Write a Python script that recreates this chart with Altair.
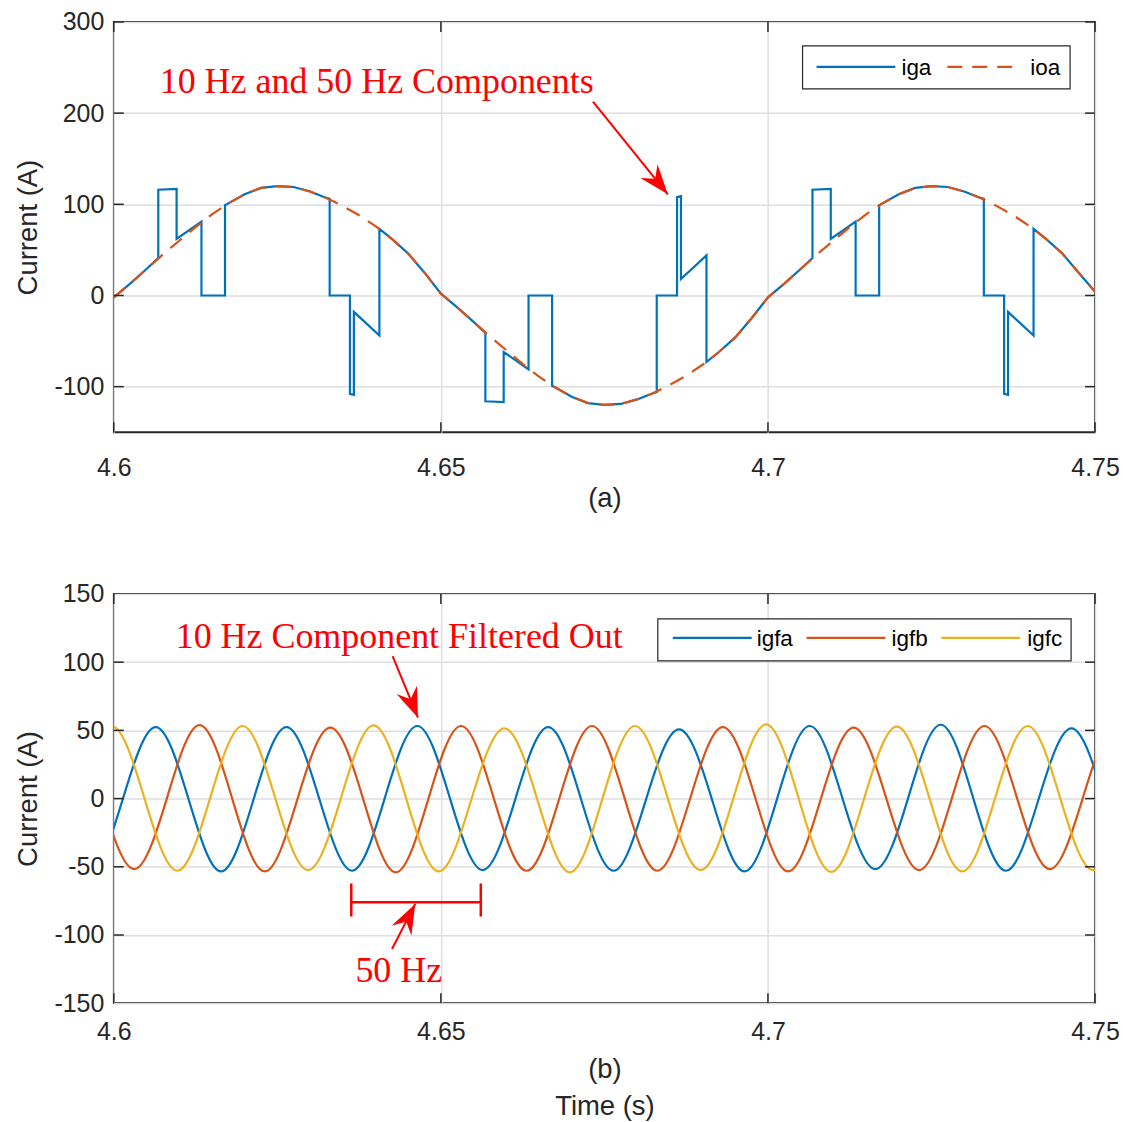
import altair as alt
import pandas as pd

# ---------------- panel (a) data ----------------
ioa_t = [4.6000, 4.6025, 4.6050, 4.6075, 4.6100, 4.6125, 4.6150, 4.6175, 4.6200, 4.6225,
         4.6250, 4.6275, 4.6300, 4.6325, 4.6350, 4.6375, 4.6400, 4.6425, 4.6450, 4.6475,
         4.6500, 4.6525, 4.6550, 4.6575, 4.6600, 4.6625, 4.6650, 4.6675, 4.6700, 4.6725,
         4.6750, 4.6775, 4.6800, 4.6825, 4.6850, 4.6875, 4.6900, 4.6925, 4.6950, 4.6975,
         4.7000, 4.7025, 4.7050, 4.7075, 4.7100, 4.7125, 4.7150, 4.7175, 4.7200, 4.7225,
         4.7250, 4.7275, 4.7300, 4.7325, 4.7350, 4.7375, 4.7400, 4.7425, 4.7450, 4.7475,
         4.7500]
ioa_v = [-2, 13, 29, 45, 60, 75, 89, 101, 111, 118,
         120, 119, 114, 107, 98, 88, 76, 62, 46, 25,
         2, -13, -29, -45, -60, -75, -89, -101, -111, -118,
         -120, -119, -114, -107, -98, -88, -76, -62, -46, -25,
         -2, 13, 29, 45, 60, 75, 89, 101, 111, 118,
         120, 119, 114, 107, 98, 88, 76, 62, 46, 25,
         4]

iga_t = [4.6000, 4.6025, 4.6050, 4.6068, 4.6068, 4.6096, 4.6096, 4.6134, 4.6134, 4.6170,
         4.6170, 4.6175, 4.6200, 4.6225, 4.6250, 4.6275, 4.6300, 4.6325, 4.6330, 4.6330,
         4.6361, 4.6361, 4.6367, 4.6367, 4.6406, 4.6406, 4.6425, 4.6450, 4.6475, 4.6500,
         4.6525, 4.6550, 4.6568, 4.6568, 4.6596, 4.6596, 4.6634, 4.6634, 4.6670, 4.6670,
         4.6675, 4.6700, 4.6725, 4.6750, 4.6775, 4.6800, 4.6825, 4.6830, 4.6830, 4.6861,
         4.6861, 4.6867, 4.6867, 4.6906, 4.6906, 4.6925, 4.6950, 4.6975, 4.7000,
         4.7025, 4.7050, 4.7068, 4.7068, 4.7096, 4.7096, 4.7134, 4.7134, 4.7170, 4.7170,
         4.7175, 4.7200, 4.7225, 4.7250, 4.7275, 4.7300, 4.7325, 4.7330, 4.7330, 4.7361,
         4.7361, 4.7367, 4.7367, 4.7406, 4.7406, 4.7425, 4.7450, 4.7475, 4.7500]
iga_v = [-2, 13, 29, 41, 116, 117, 62, 81, 0, 0,
         99, 101, 111, 118, 120, 119, 114, 107, 106, 0,
         0, -108, -109, -18, -44, 73, 62, 46, 25, 2,
         -13, -29, -41, -116, -117, -62, -81, 0, 0, -99,
         -101, -111, -118, -120, -119, -114, -107, -106, 0, 0,
         108, 109, 18, 44, -73, -62, -46, -25, -2,
         13, 29, 41, 116, 117, 62, 81, 0, 0, 99,
         101, 111, 118, 120, 119, 114, 107, 106, 0, 0,
         -108, -109, -18, -44, 73, 62, 46, 25, 4]

# ---------------- panel (b) data ----------------
igfa_t = [4.5914, 4.5964, 4.6014, 4.6064, 4.6114, 4.6164, 4.6214, 4.6264, 4.6314, 4.6364,
          4.6414, 4.6464, 4.6514, 4.6564, 4.6614, 4.6664, 4.6714, 4.6764, 4.6814, 4.6864,
          4.6914, 4.6964, 4.7014, 4.7064, 4.7114, 4.7164, 4.7214, 4.7264, 4.7314, 4.7364,
          4.7414, 4.7464, 4.7514]
igfa_v = [0, -52.5, 0, 52.4, 0, -53.4, 0, 52.4, 0, -52.9,
          0, 53.2, 0, -52.4, 0, 52.4, 0, -52.9, 0, 50.7,
          0, -53.4, 0, 53.2, 0, -51.7, 0, 54.1, 0, -52.9,
          0, 51.5, 0]
igfb_t = [4.5981, 4.6031, 4.6081, 4.6131, 4.6181, 4.6231, 4.6281, 4.6331, 4.6381, 4.6431,
          4.6481, 4.6531, 4.6581, 4.6631, 4.6681, 4.6731, 4.6781, 4.6831, 4.6881, 4.6931,
          4.6981, 4.7031, 4.7081, 4.7131, 4.7181, 4.7231, 4.7281, 4.7331, 4.7381, 4.7431,
          4.7481, 4.7531, 4.7581]
igfb_v = [0, -51.7, 0, 53.9, 0, -53.4, 0, 52.0, 0, -54.1,
          0, 53.2, 0, -52.9, 0, 53.2, 0, -52.9, 0, 52.4,
          0, -53.4, 0, 52.0, 0, -52.4, 0, 53.2, 0, -51.7,
          0, 52.5, 0]
igfc_t = [4.5947, 4.5997, 4.6047, 4.6097, 4.6147, 4.6197, 4.6247, 4.6297, 4.6347, 4.6397,
          4.6447, 4.6497, 4.6547, 4.6597, 4.6647, 4.6697, 4.6747, 4.6797, 4.6847, 4.6897,
          4.6947, 4.6997, 4.7047, 4.7097, 4.7147, 4.7197, 4.7247, 4.7297, 4.7347, 4.7397,
          4.7447, 4.7497, 4.7547]
igfc_v = [0, 53.0, 0, -52.9, 0, 53.2, 0, -52.4, 0, 53.7,
          0, -53.4, 0, 51.5, 0, -54.1, 0, 53.2, 0, -52.4,
          0, 54.4, 0, -53.7, 0, 52.7, 0, -53.4, 0, 53.2,
          0, -52.4, 0]

# ---------------- ticks, labels, annotations ----------------
x_ticks = [4.6, 4.65, 4.7, 4.75]
ya_ticks = [-100, 0, 100, 200, 300]
yb_ticks = [-150, -100, -50, 0, 50, 100, 150]
legend_a = ["iga", "ioa"]
legend_b = ["igfa", "igfb", "igfc"]

ann_a = {"t": [4.60702], "v": [222.6], "label": ["10 Hz and 50 Hz Components"]}
arrow_a = {"t1": [4.67325], "v1": [212.7], "t2": [4.68469], "v2": [110.9]}
ann_b = {"t": [4.60946, 4.63693], "v": [110.2, -134.6],
         "label": ["10 Hz Component Filtered Out", "50 Hz"]}
arrow_b1 = {"t1": [4.64262], "v1": [104.4], "t2": [4.64650], "v2": [59.3]}
arrow_b2 = {"t1": [4.64253], "v1": [-110.2], "t2": [4.64608], "v2": [-77.2]}
bracket_b = {"t1": [4.6363], "t2": [4.6561], "v": [-76.0], "lo": [-86.5], "hi": [-62.2]}

# ---------------- style ----------------
W, HA, HB = 983, 411, 410
BLUE, ORANGE, YELLOW = "#0072BD", "#D95319", "#EDB120"
DARK = "#262626"
GRID = "#DEDEDE"
SANS = "Liberation Sans"
SERIF = "Liberation Serif"
LW = 2.2
TICK = 10
ARROW = "M0,0 L-3,-1.1 L-2,0 L-3,1.1 Z"

xscale = alt.Scale(domain=[4.6, 4.75], nice=False, zero=False)
ya_scale = alt.Scale(domain=[-150, 300], nice=False, zero=False)
yb_scale = alt.Scale(domain=[-150, 150], nice=False, zero=False)


def make_xaxis(title, label_pad, title_pad):
    return alt.Axis(values=x_ticks, labelExpr="'' + datum.value", grid=True,
                    gridColor=GRID, gridWidth=1.5, domain=False, ticks=False, tickSize=0,
                    labelFont=SANS, labelFontSize=25, labelColor=DARK, labelPadding=label_pad,
                    labelFlush=False, title=title, titleFont=SANS, titleFontSize=27.5,
                    titleFontWeight="normal", titleColor=DARK, titlePadding=title_pad,
                    titleLineHeight=37)


def make_yaxis(vals):
    return alt.Axis(values=vals, labelExpr="'' + datum.value", grid=True,
                    gridColor=GRID, gridWidth=1.5, domain=False, ticks=False, tickSize=0,
                    labelFont=SANS, labelFontSize=25, labelColor=DARK, labelPadding=10,
                    labelFlush=False, title="Current (A)", titleFont=SANS,
                    titleFontSize=27.5, titleFontWeight="normal", titleColor=DARK,
                    titlePadding=11)


one = pd.DataFrame({"a": [0]})


def build_panel(xaxis, yaxis, yscale, H, yvals, data_layers, arrows, texts, legend_spec,
                extra=None):
    """Every layer that uses a scale carries the identical axis definition."""
    X = lambda f: alt.X(f, scale=xscale, axis=xaxis)
    Y = lambda f: alt.Y(f, scale=yscale, axis=yaxis)
    layers = []
    for df, mk in data_layers:
        layers.append(alt.Chart(df).mark_line(**mk).encode(x=X("t:Q"), y=Y("v:Q"), order="i:Q"))
    # inward ticks on all four sides
    xt = pd.DataFrame({"t": x_ticks})
    yt = pd.DataFrame({"v": yvals})
    rule = dict(color=DARK, strokeWidth=1.5)
    layers += [
        alt.Chart(yt).mark_rule(**rule).encode(y=Y("v:Q"), x=alt.value(0), x2=alt.value(TICK)),
        alt.Chart(yt).mark_rule(**rule).encode(y=Y("v:Q"), x=alt.value(W - TICK), x2=alt.value(W)),
        alt.Chart(xt).mark_rule(**rule).encode(x=X("t:Q"), y=alt.value(0), y2=alt.value(TICK)),
        alt.Chart(xt).mark_rule(**rule).encode(x=X("t:Q"), y=alt.value(H - TICK), y2=alt.value(H)),
    ]
    if extra:
        for d, kind in extra:
            df = pd.DataFrame(d)
            if kind == "h":
                layers.append(alt.Chart(df).mark_rule(color="red", strokeWidth=2.5).encode(
                    x=X("t1:Q"), x2="t2:Q", y=Y("v:Q")))
            else:
                layers.append(alt.Chart(df).mark_rule(color="red", strokeWidth=2.5).encode(
                    x=X(kind + ":Q"), y=Y("lo:Q"), y2="hi:Q"))
    for d, ang in arrows:
        df = pd.DataFrame(d)
        layers.append(alt.Chart(df).mark_rule(color="red", strokeWidth=2).encode(
            x=X("t1:Q"), y=Y("v1:Q"), x2="t2:Q", y2="v2:Q"))
        layers.append(alt.Chart(df).mark_point(shape=ARROW, filled=True, color="red", opacity=1,
                                               size=400, angle=ang).encode(
            x=X("t2:Q"), y=Y("v2:Q")))
    layers.append(alt.Chart(pd.DataFrame(texts)).mark_text(
        align="left", baseline="alphabetic", font=SERIF, fontSize=36, color="red").encode(
        x=X("t:Q"), y=Y("v:Q"), text="label:N"))
    labels, colors, dashes, box, lines, label_x, ly = legend_spec
    layers.append(alt.Chart(one).mark_rect(fill="white", stroke=DARK, strokeWidth=1.2).encode(
        x=alt.value(box[0]), x2=alt.value(box[1]), y=alt.value(box[2]), y2=alt.value(box[3])))
    for lab, col, dsh, (x1, x2), lx in zip(labels, colors, dashes, lines, label_x):
        kw = dict(color=col, strokeWidth=LW)
        if dsh:
            kw["strokeDash"] = dsh
        layers.append(alt.Chart(one).mark_rule(**kw).encode(
            x=alt.value(x1), x2=alt.value(x2), y=alt.value(ly)))
        layers.append(alt.Chart(one).mark_text(align="left", baseline="middle", font=SANS,
                                               fontSize=22.5, color="black").encode(
            x=alt.value(lx), y=alt.value(ly + 1), text=alt.value(lab)))
    return alt.layer(*layers).properties(width=W, height=H)


def frame(t, v):
    return pd.DataFrame({"t": t, "v": v, "i": list(range(len(t)))})


panel_a = build_panel(
    make_xaxis("(a)", 23, 4), make_yaxis(ya_ticks), ya_scale, HA, ya_ticks,
    [(frame(iga_t, iga_v), dict(color=BLUE, strokeWidth=LW, clip=True)),
     (frame(ioa_t, ioa_v), dict(color=ORANGE, strokeWidth=LW, strokeDash=[15, 10], clip=True))],
    [(arrow_a, 51)], ann_a,
    (legend_a, [BLUE, ORANGE], [None, [15, 10]], (690, 958, 24, 67),
     [(704, 783), (835, 910)], [789, 918], 45))

nat = dict(strokeWidth=LW, interpolate="natural", clip=True)
panel_b = build_panel(
    make_xaxis(["(b)", "Time (s)"], 16, 11), make_yaxis(yb_ticks), yb_scale, HB, yb_ticks[1:-1],
    [(frame(igfa_t, igfa_v), dict(color=BLUE, **nat)),
     (frame(igfb_t, igfb_v), dict(color=ORANGE, **nat)),
     (frame(igfc_t, igfc_v), dict(color=YELLOW, **nat))],
    [(arrow_b1, 68), (arrow_b2, 297)], ann_b,
    (legend_b, [BLUE, ORANGE, YELLOW], [None, None, None], (545, 959, 25, 67),
     [(560, 639), (694, 773), (829, 908)], [644, 779, 915], 44),
    extra=[(bracket_b, "h"), (bracket_b, "t1"), (bracket_b, "t2")])

chart = alt.vconcat(panel_a, panel_b, spacing=68).properties(
    padding={"left": 14, "top": 8, "right": 2, "bottom": 2}
).configure_view(stroke=DARK, strokeWidth=1.8)

chart.save("out.html", embed_options={"renderer": "svg", "actions": False})
